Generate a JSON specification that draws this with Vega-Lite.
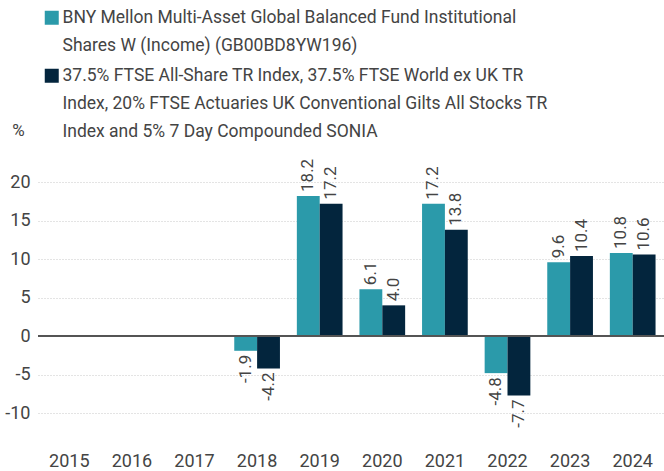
{
  "$schema": "https://vega.github.io/schema/vega-lite/v6.json",
  "width": 626,
  "height": 285,
  "autosize": "none",
  "padding": {"left": 38, "top": 159, "right": 0, "bottom": 27},
  "config": {
    "font": "Roboto",
    "view": {"stroke": null},
    "style": {"guide-label": {"lineHeight": 28}},
    "locale": {"number": {"decimal": ".", "thousands": ",", "grouping": [3], "currency": ["", ""], "minus": "-"}}
  },
  "data": {
    "values": [
      {"year": "2018", "series": "A", "v": -1.9},
      {"year": "2018", "series": "B", "v": -4.2},
      {"year": "2019", "series": "A", "v": 18.2},
      {"year": "2019", "series": "B", "v": 17.2},
      {"year": "2020", "series": "A", "v": 6.1},
      {"year": "2020", "series": "B", "v": 4.0},
      {"year": "2021", "series": "A", "v": 17.2},
      {"year": "2021", "series": "B", "v": 13.8},
      {"year": "2022", "series": "A", "v": -4.8},
      {"year": "2022", "series": "B", "v": -7.7},
      {"year": "2023", "series": "A", "v": 9.6},
      {"year": "2023", "series": "B", "v": 10.4},
      {"year": "2024", "series": "A", "v": 10.8},
      {"year": "2024", "series": "B", "v": 10.6}
    ]
  },
  "encoding": {
    "x": {
      "field": "year", "type": "nominal",
      "scale": {"domain": ["2015","2016","2017","2018","2019","2020","2021","2022","2023","2024"], "paddingInner": 0.27, "paddingOuter": 0.135},
      "axis": {"title": null, "labelAngle": 0, "domain": false, "ticks": false, "labelFontSize": 18, "labelColor": "#444", "labelPadding": 8, "labelBaseline": "top"}
    },
    "xOffset": {"field": "series", "type": "nominal", "scale": {"domain": ["A","B"], "paddingInner": 0, "paddingOuter": 0}},
    "y": {
      "field": "v", "type": "quantitative",
      "scale": {"domain": [-14, 23], "nice": false, "zero": false},
      "axis": {
        "title": "%", "titleAngle": 0, "titleX": -20, "titleY": -29, "titleAlign": "center", "titleBaseline": "middle",
        "titleFontSize": 17, "titleFontWeight": "normal", "titleColor": "#444",
        "values": [-10, -5, 0, 5, 10, 15, 20],
        "domain": false, "ticks": false, "labelFontSize": 18, "labelColor": "#444", "labelPadding": 8,
        "gridColor": "#c8c8c8", "gridDash": [1, 2], "gridWidth": 1
      }
    }
  },
  "layer": [
    {
      "mark": {"type": "bar"},
      "encoding": {
        "color": {
          "field": "series", "type": "nominal",
          "scale": {"domain": ["A","B"], "range": ["#2b9aaa", "#03253d"]},
          "legend": {
            "title": null, "orient": "none", "legendX": 5, "legendY": -150,
            "direction": "vertical", "rowPadding": 11,
            "symbolType": "square", "symbolSize": 196, "symbolStrokeWidth": 0,
            "labelFontSize": 17.5, "labelColor": "#444", "labelOffset": 2, "labelLimit": 700,
            "labelExpr": "datum.value == 'A' ? ['BNY Mellon Multi-Asset Global Balanced Fund Institutional', 'Shares W (Income) (GB00BD8YW196)'] : ['37.5% FTSE All-Share TR Index, 37.5% FTSE World ex UK TR', 'Index, 20% FTSE Actuaries UK Conventional Gilts All Stocks TR', 'Index and 5% 7 Day Compounded SONIA']"
          }
        }
      }
    },
    {
      "transform": [{"filter": "datum.v >= 0"}],
      "mark": {"type": "text", "angle": 270, "align": "left", "baseline": "middle", "dx": 4, "fontSize": 17, "color": "#444"},
      "encoding": {"text": {"field": "v", "type": "quantitative", "format": ".1f"}}
    },
    {
      "transform": [{"filter": "datum.v < 0"}],
      "mark": {"type": "text", "angle": 270, "align": "right", "baseline": "middle", "dx": -4, "fontSize": 17, "color": "#444"},
      "encoding": {"text": {"field": "v", "type": "quantitative", "format": ".1f"}}
    },
    {
      "mark": {"type": "rule", "color": "#555", "strokeWidth": 1.5},
      "encoding": {"y": {"datum": 0}, "x": null, "xOffset": null}
    }
  ]
}
